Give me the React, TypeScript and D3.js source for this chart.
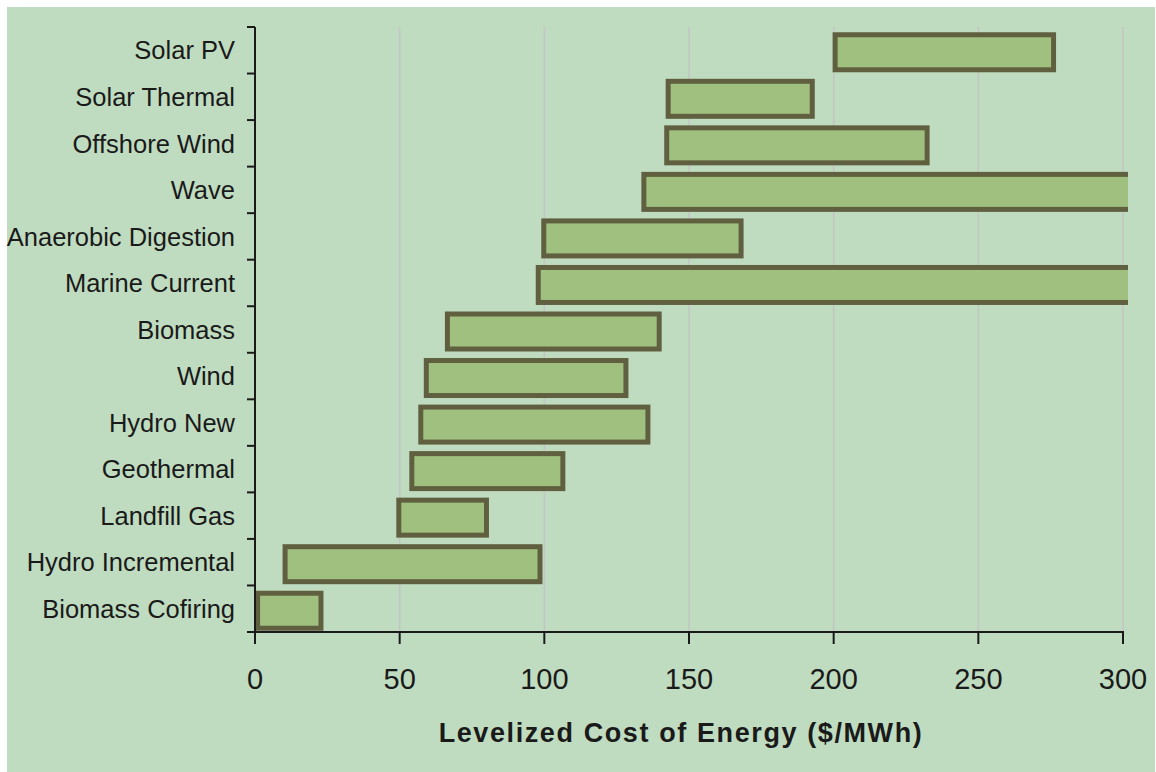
import React from "react";
import * as d3 from "d3";

const categories = [
  "Solar PV",
  "Solar Thermal",
  "Offshore Wind",
  "Wave",
  "Anaerobic Digestion",
  "Marine Current",
  "Biomass",
  "Wind",
  "Hydro New",
  "Geothermal",
  "Landfill Gas",
  "Hydro Incremental",
  "Biomass Cofiring",
];
const lowValues = [200.5, 142.8, 142.3, 134.4, 99.8, 97.9, 66.5, 59.2, 57.3, 54.2, 49.7, 10.4, 0.9];
const highValues = [276, 192.6, 232.3, 320, 168, 320, 139.7, 128.2, 135.8, 106.4, 80, 98.5, 22.8];
const xTicks = [0, 50, 100, 150, 200, 250, 300];
const axisTitle = "Levelized Cost of Energy ($/MWh)";

const W = 1156;
const H = 772;
const plotLeft = 255;
const plotRight = 1123;
const plotTop = 27;
const plotBottom = 632;

const BG = "rgb(192,220,192)";
const FILL = "rgb(160,192,128)";
const STROKE = "rgb(96,96,64)";
const FONT = "'Liberation Sans', Arial, Helvetica, sans-serif";

export default function App() {
  const x = d3.scaleLinear().domain([0, 300]).range([plotLeft, plotRight]);
  const y = d3
    .scaleBand<string>()
    .domain(categories)
    .range([plotTop, plotBottom])
    .paddingInner(0)
    .paddingOuter(0);
  const band = y.bandwidth();
  const barH = 35;
  const barOffset = 2;
  const boundaries = d3.range(categories.length + 1).map((i) => plotTop + i * band);

  return (
    <svg
      width={W}
      height={H}
      style={{ position: "absolute", left: 0, top: 0, background: "#fff" }}
    >
      <rect x={7} y={7} width={W - 8} height={H - 7} fill={BG} />
      <defs>
        <clipPath id="plotClip">
          <rect x={0} y={0} width={x(300) + 5} height={H} />
        </clipPath>
      </defs>
      {/* gridlines */}
      {xTicks
        .filter((t) => t > 0)
        .map((t) => (
          <line
            key={"g" + t}
            x1={x(t)}
            x2={x(t)}
            y1={plotTop}
            y2={plotBottom}
            stroke="rgb(196,196,196)"
            strokeWidth={1.5}
          />
        ))}
      {/* bars */}
      <g clipPath="url(#plotClip)">
        {categories.map((c, i) => {
          const yc = (y(c) as number) + band / 2 + barOffset;
          return (
            <rect
              key={c}
              x={x(lowValues[i])}
              y={yc - barH / 2}
              width={x(highValues[i]) - x(lowValues[i])}
              height={barH}
              fill={FILL}
              stroke={STROKE}
              strokeWidth={5}
            />
          );
        })}
      </g>
      {/* left axis */}
      <line x1={plotLeft} x2={plotLeft} y1={plotTop} y2={plotBottom} stroke="#1a1a1a" strokeWidth={2} />
      {boundaries.map((b, i) => (
        <line key={"lt" + i} x1={plotLeft - 8} x2={plotLeft} y1={b} y2={b} stroke="#1a1a1a" strokeWidth={2} />
      ))}
      {categories.map((c) => (
        <text
          key={"l" + c}
          x={235}
          y={(y(c) as number) + band / 2}
          dy="0.36em"
          textAnchor="end"
          fontFamily={FONT}
          fontSize={25.5}
          fill="#1a1a1a"
        >
          {c}
        </text>
      ))}
      {/* bottom axis */}
      <line x1={plotLeft} x2={plotRight + 1} y1={plotBottom} y2={plotBottom} stroke="#1a1a1a" strokeWidth={2} />
      {xTicks.map((t) => (
        <g key={"xt" + t}>
          <line x1={x(t)} x2={x(t)} y1={plotBottom} y2={plotBottom + 12} stroke="#1a1a1a" strokeWidth={2} />
          <text
            x={x(t)}
            y={689}
            textAnchor="middle"
            fontFamily={FONT}
            fontSize={29}
            fill="#1a1a1a"
          >
            {t}
          </text>
        </g>
      ))}
      <text
        x={681}
        y={742}
        textAnchor="middle"
        fontFamily={FONT}
        fontSize={27}
        fontWeight="bold"
        letterSpacing={1.6}
        fill="#1a1a1a"
      >
        {axisTitle}
      </text>
    </svg>
  );
}
